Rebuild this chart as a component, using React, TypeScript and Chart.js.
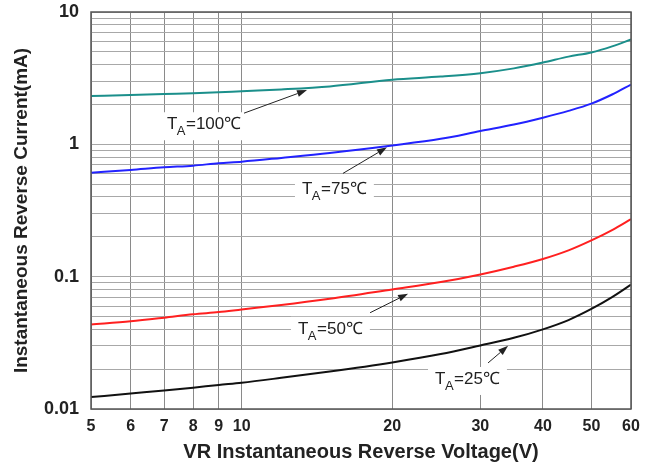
import React, { useEffect, useRef } from "react";
import { Chart, registerables } from "chart.js";

Chart.register(...registerables);

// Reverse voltage (V)
const VOLTAGES = [5, 6, 7, 8, 9, 10, 12, 15, 20, 25, 30, 35, 40, 45, 50, 55, 60];
// Reverse current (mA) per ambient temperature
const I_100C = [2.32, 2.36, 2.4, 2.43, 2.47, 2.52, 2.6, 2.74, 3.08, 3.25, 3.45, 3.75, 4.15, 4.6, 4.95, 5.5, 6.2];
const I_75C = [0.61, 0.64, 0.67, 0.69, 0.72, 0.74, 0.79, 0.86, 0.98, 1.1, 1.26, 1.41, 1.59, 1.79, 2.03, 2.38, 2.83];
const I_50C = [0.0435, 0.046, 0.049, 0.052, 0.054, 0.0565, 0.061, 0.068, 0.08, 0.091, 0.104, 0.119, 0.136, 0.158, 0.188, 0.225, 0.272];
const I_25C = [0.0123, 0.0131, 0.0138, 0.0145, 0.0152, 0.0158, 0.0172, 0.0192, 0.0225, 0.026, 0.0302, 0.0345, 0.04, 0.047, 0.057, 0.07, 0.087];

const SERIES_NAMES = ["100", "75", "50", "25"];
const SERIES_COLORS = ["#1b8f8b", "#2222ff", "#ff2020", "#111111"];

const X_TICKS = [5, 6, 7, 8, 9, 10, 20, 30, 40, 50, 60];
const Y_GRID = [
  0.01, 0.02, 0.03, 0.04, 0.05, 0.06, 0.07, 0.08, 0.09,
  0.1, 0.2, 0.3, 0.4, 0.5, 0.6, 0.7, 0.8, 0.9,
  1, 2, 3, 4, 5, 6, 7, 8, 9, 10,
];
const Y_LABELS = [0.01, 0.1, 1, 10];

// annotation anchors in data space: text (left, baseline), arrow tail, arrow head
const LABEL_TEXT_X = [7.09, 13.2, 12.96, 24.35];
const LABEL_TEXT_Y = [1.3, 0.425, 0.037, 0.01546];
const ARROW_TAIL_X = [10.11, 15.94, 18.06, 31.08];
const ARROW_TAIL_Y = [1.72, 0.603, 0.0534, 0.0223];
const ARROW_HEAD_X = [13.51, 19.52, 21.51, 34.08];
const ARROW_HEAD_Y = [2.57, 0.949, 0.0743, 0.03];

const FONT = "'Liberation Sans', Arial, Helvetica, sans-serif";

const annotationPlugin = {
  id: "tempLabels",
  beforeDatasetsDraw(chart: any) {
    const { ctx, scales } = chart;
    const x = scales.x;
    const y = scales.y;
    const big = `17px ${FONT}`;
    const small = `13px ${FONT}`;
    ctx.save();
    SERIES_NAMES.forEach((name, i) => {
      const tx = x.getPixelForValue(LABEL_TEXT_X[i]);
      const ty = y.getPixelForValue(LABEL_TEXT_Y[i]);
      ctx.font = big;
      const wT = ctx.measureText("T").width;
      const rest = "=" + name + "\u2103";
      const wR = ctx.measureText(rest).width;
      ctx.font = small;
      const wA = ctx.measureText("A").width;
      const total = wT + wA + wR;
      ctx.fillStyle = "#ffffff";
      ctx.fillRect(tx - 7, ty - 17, total + 14, 28);
      ctx.fillStyle = "#222222";
      ctx.textBaseline = "alphabetic";
      ctx.textAlign = "left";
      ctx.font = big;
      ctx.fillText("T", tx, ty);
      ctx.font = small;
      ctx.fillText("A", tx + wT - 0.5, ty + 6);
      ctx.font = big;
      ctx.fillText(rest, tx + wT + wA, ty);

      // arrow
      const ax = x.getPixelForValue(ARROW_TAIL_X[i]);
      const ay = y.getPixelForValue(ARROW_TAIL_Y[i]);
      const hx = x.getPixelForValue(ARROW_HEAD_X[i]);
      const hy = y.getPixelForValue(ARROW_HEAD_Y[i]);
      const ang = Math.atan2(hy - ay, hx - ax);
      const len = 10;
      const hw = 3.5;
      const bx = hx - len * Math.cos(ang);
      const by = hy - len * Math.sin(ang);
      ctx.strokeStyle = "#222222";
      ctx.lineWidth = 1;
      ctx.beginPath();
      ctx.moveTo(ax, ay);
      ctx.lineTo(bx, by);
      ctx.stroke();
      ctx.beginPath();
      ctx.moveTo(hx, hy);
      ctx.lineTo(bx - hw * Math.sin(ang), by + hw * Math.cos(ang));
      ctx.lineTo(bx + hw * Math.sin(ang), by - hw * Math.cos(ang));
      ctx.closePath();
      ctx.fillStyle = "#222222";
      ctx.fill();
    });
    ctx.restore();
  },
  afterDatasetsDraw(chart: any) {
    const { ctx, chartArea } = chart;
    ctx.save();
    ctx.strokeStyle = "#555555";
    ctx.lineWidth = 1.5;
    ctx.strokeRect(chartArea.left, chartArea.top, chartArea.right - chartArea.left, chartArea.bottom - chartArea.top);
    ctx.restore();
  },
};

export default function App() {
  const canvasRef = useRef<HTMLCanvasElement | null>(null);

  useEffect(() => {
    if (!canvasRef.current) return;
    const allSeries = [I_100C, I_75C, I_50C, I_25C];
    const chart = new Chart(canvasRef.current, {
      type: "line",
      data: {
        datasets: allSeries.map((s, i) => ({
          label: "TA=" + SERIES_NAMES[i] + "\u2103",
          data: VOLTAGES.map((v, j) => ({ x: v, y: s[j] })),
          borderColor: SERIES_COLORS[i],
          backgroundColor: SERIES_COLORS[i],
          borderWidth: 2,
          pointRadius: 0,
          tension: 0.4,
          cubicInterpolationMode: "monotone" as const,
          fill: false,
        })),
      },
      options: {
        animation: false,
        responsive: true,
        maintainAspectRatio: false,
        layout: { padding: { top: 12, right: 25, left: 0, bottom: 0 } },
        plugins: {
          legend: { display: false },
          tooltip: { enabled: false },
        },
        scales: {
          x: {
            type: "logarithmic",
            min: 5,
            max: 60,
            afterBuildTicks: (scale: any) => {
              scale.ticks = X_TICKS.map((v) => ({ value: v }));
            },
            afterFit: (scale: any) => {
              scale.height = 62;
              scale.paddingLeft = 0;
              scale.paddingRight = 0;
            },
            ticks: {
              autoSkip: false,
              maxRotation: 0,
              padding: 8,
              color: "#222222",
              font: { family: FONT, size: 16, weight: "bold" },
              callback: (v: any) => String(v),
            },
            grid: { color: "#8a8a8a", lineWidth: 1, drawTicks: false },
            border: { display: false },
            title: {
              display: true,
              text: "VR Instantaneous Reverse Voltage(V)",
              color: "#222222",
              font: { family: FONT, size: 20, weight: "bold" },
              padding: { top: 0, bottom: 7 },
            },
          },
          y: {
            type: "logarithmic",
            min: 0.01,
            max: 10,
            afterBuildTicks: (scale: any) => {
              scale.ticks = Y_GRID.map((v) => ({ value: v }));
            },
            afterFit: (scale: any) => {
              scale.width = 91;
              scale.paddingTop = 0;
              scale.paddingBottom = 0;
            },
            ticks: {
              autoSkip: false,
              padding: 12,
              color: "#222222",
              font: { family: FONT, size: 18, weight: "bold" },
              callback: (v: any) => (Y_LABELS.includes(Number(v)) ? String(v) : ""),
            },
            grid: { color: "#a8a8a8", lineWidth: 1, drawTicks: false },
            border: { display: false },
            title: {
              display: true,
              text: "Instantaneous Reverse Current(mA)",
              color: "#222222",
              font: { family: FONT, size: 19, weight: "bold" },
              padding: { top: 10, bottom: 0 },
            },
          },
        },
      },
      plugins: [annotationPlugin],
    });
    return () => chart.destroy();
  }, []);

  return (
    <div style={{ position: "absolute", left: 0, top: 0, width: 656, height: 471, background: "#fff" }}>
      <canvas ref={canvasRef} />
    </div>
  );
}
